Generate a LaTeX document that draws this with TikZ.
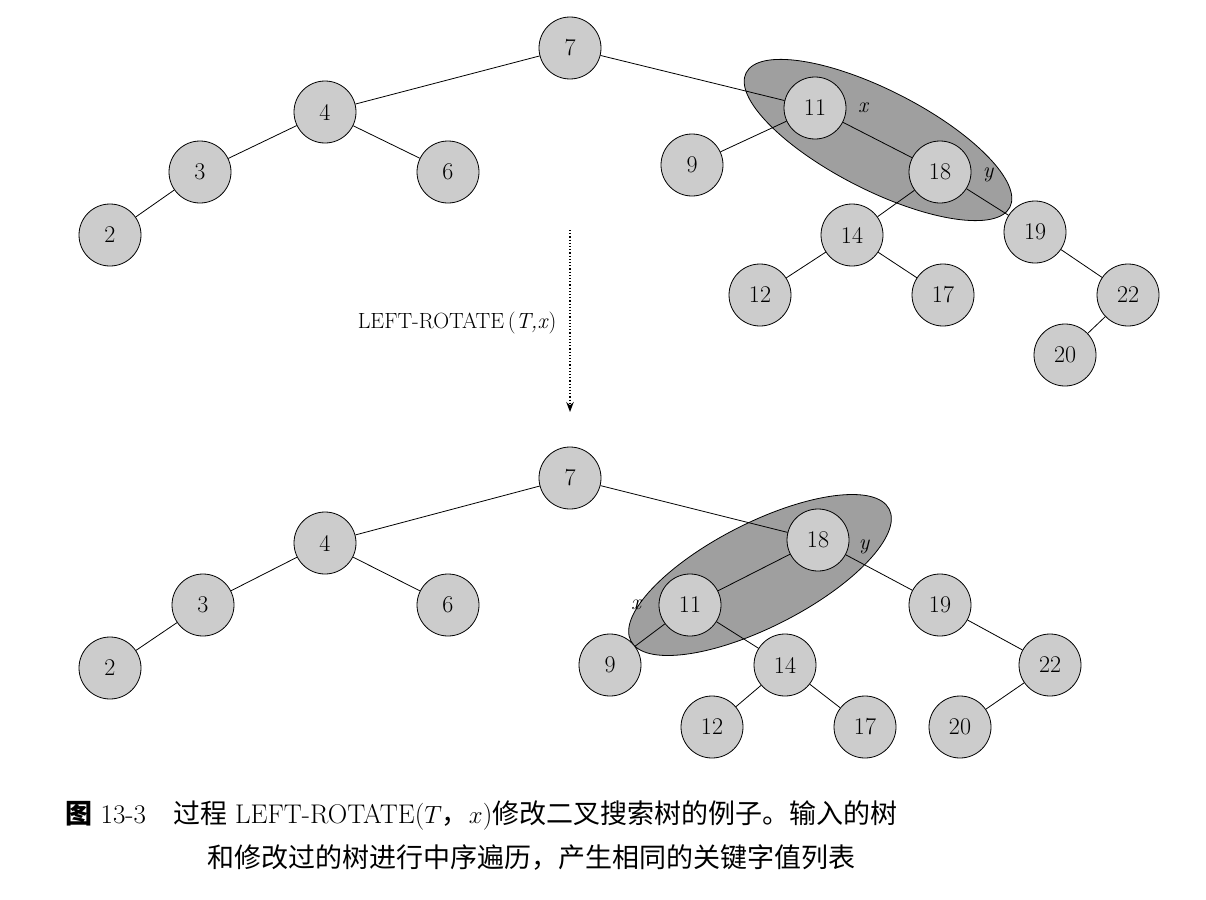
\documentclass[tikz,border=0pt]{standalone}
\usepackage{amsmath}
\usepackage{fontspec}
\newfontfamily\cjk{Noto Sans CJK SC}
\usepackage{tikz}
\usetikzlibrary{arrows.meta}
\usepackage{xcolor}

\tikzset{
	key/.style={circle,draw,thick,fill=gray!40,minimum size=62pt,inner sep=0pt,font=\fontsize{24}{24}\selectfont},
	edge/.style={thick},
	blob/.style={draw,thick,fill=gray!75},
	lbl/.style={font=\fontsize{22}{22}\selectfont\itshape}
}

\begin{document}
\begin{tikzpicture}[x=1pt,y=-1pt]
	\useasboundingbox (0,0) rectangle (1206,899);
	
	% Highlight the rotated pair
	\draw[blob,rotate around={-27:(878,140)}] (878,140) ellipse (148 and 50);
	\draw[blob,rotate around={27:(760,575)}] (760,575) ellipse (145 and 52);
	
	% Draw nodes, input tree
	\node[key] (a7) at (570,48) {7};
	\node[key] (a4) at (325,112) {4};
	\node[key] (a3) at (200,172) {3};
	\node[key] (a6) at (448,172) {6};
	\node[key] (a2) at (110,235) {2};
	\node[key] (a11) at (815,108) {11};
	\node[key] (a9) at (692,165) {9};
	\node[key] (a18) at (940,172) {18};
	\node[key] (a14) at (852,235) {14};
	\node[key] (a19) at (1035,232) {19};
	\node[key] (a12) at (760,295) {12};
	\node[key] (a17) at (943,295) {17};
	\node[key] (a22) at (1128,295) {22};
	\node[key] (a20) at (1065,355) {20};
	\node[lbl] at (863,108) {x};
	\node[lbl] at (988,175) {y};
	
	% Draw nodes, rotated tree
	\node[key] (b7) at (570,478) {7};
	\node[key] (b4) at (325,543) {4};
	\node[key] (b3) at (203,605) {3};
	\node[key] (b6) at (448,605) {6};
	\node[key] (b2) at (110,668) {2};
	\node[key] (b18) at (818,540) {18};
	\node[key] (b11) at (690,605) {11};
	\node[key] (b19) at (940,605) {19};
	\node[key] (b9) at (610,665) {9};
	\node[key] (b14) at (785,665) {14};
	\node[key] (b22) at (1050,665) {22};
	\node[key] (b12) at (712,727) {12};
	\node[key] (b17) at (865,727) {17};
	\node[key] (b20) at (960,727) {20};
	\node[lbl] at (636,605) {x};
	\node[lbl] at (864,547) {y};
	
	% Draw edges
	\foreach \u/\v in {7/4,4/3,4/6,3/2,7/11,11/9,11/18,18/14,18/19,14/12,14/17,19/22,22/20}
		\draw[edge] (a\u) -- (a\v);
	\foreach \u/\v in {7/4,4/3,4/6,3/2,7/18,18/11,18/19,11/9,11/14,14/12,14/17,19/22,22/20}
		\draw[edge] (b\u) -- (b\v);
	
	% Draw the rotation step
	\coordinate (top) at (570,230);
	\coordinate (bot) at (570,412);
	\draw[very thick,dotted,-{Stealth[length=10pt]}] (top) -- (bot);
	\node[font=\fontsize{22}{22}\selectfont,anchor=east] (op) at (560,323) {LEFT-ROTATE\,(\textit{T,x})};
	
	% Caption
	\node[anchor=west,font=\fontsize{27}{27}\selectfont] (cap1) at (62,815)
		{{\cjk\bfseries 图} 13-3\quad{\cjk 过程} LEFT-ROTATE($T${\cjk ，}$x$){\cjk 修改二叉搜索树的例子。输入的树}};
	\node[anchor=west,font=\fontsize{27}{27}\selectfont] (cap2) at (204,857)
		{\cjk 和修改过的树进行中序遍历，产生相同的关键字值列表};
\end{tikzpicture}
\end{document}
